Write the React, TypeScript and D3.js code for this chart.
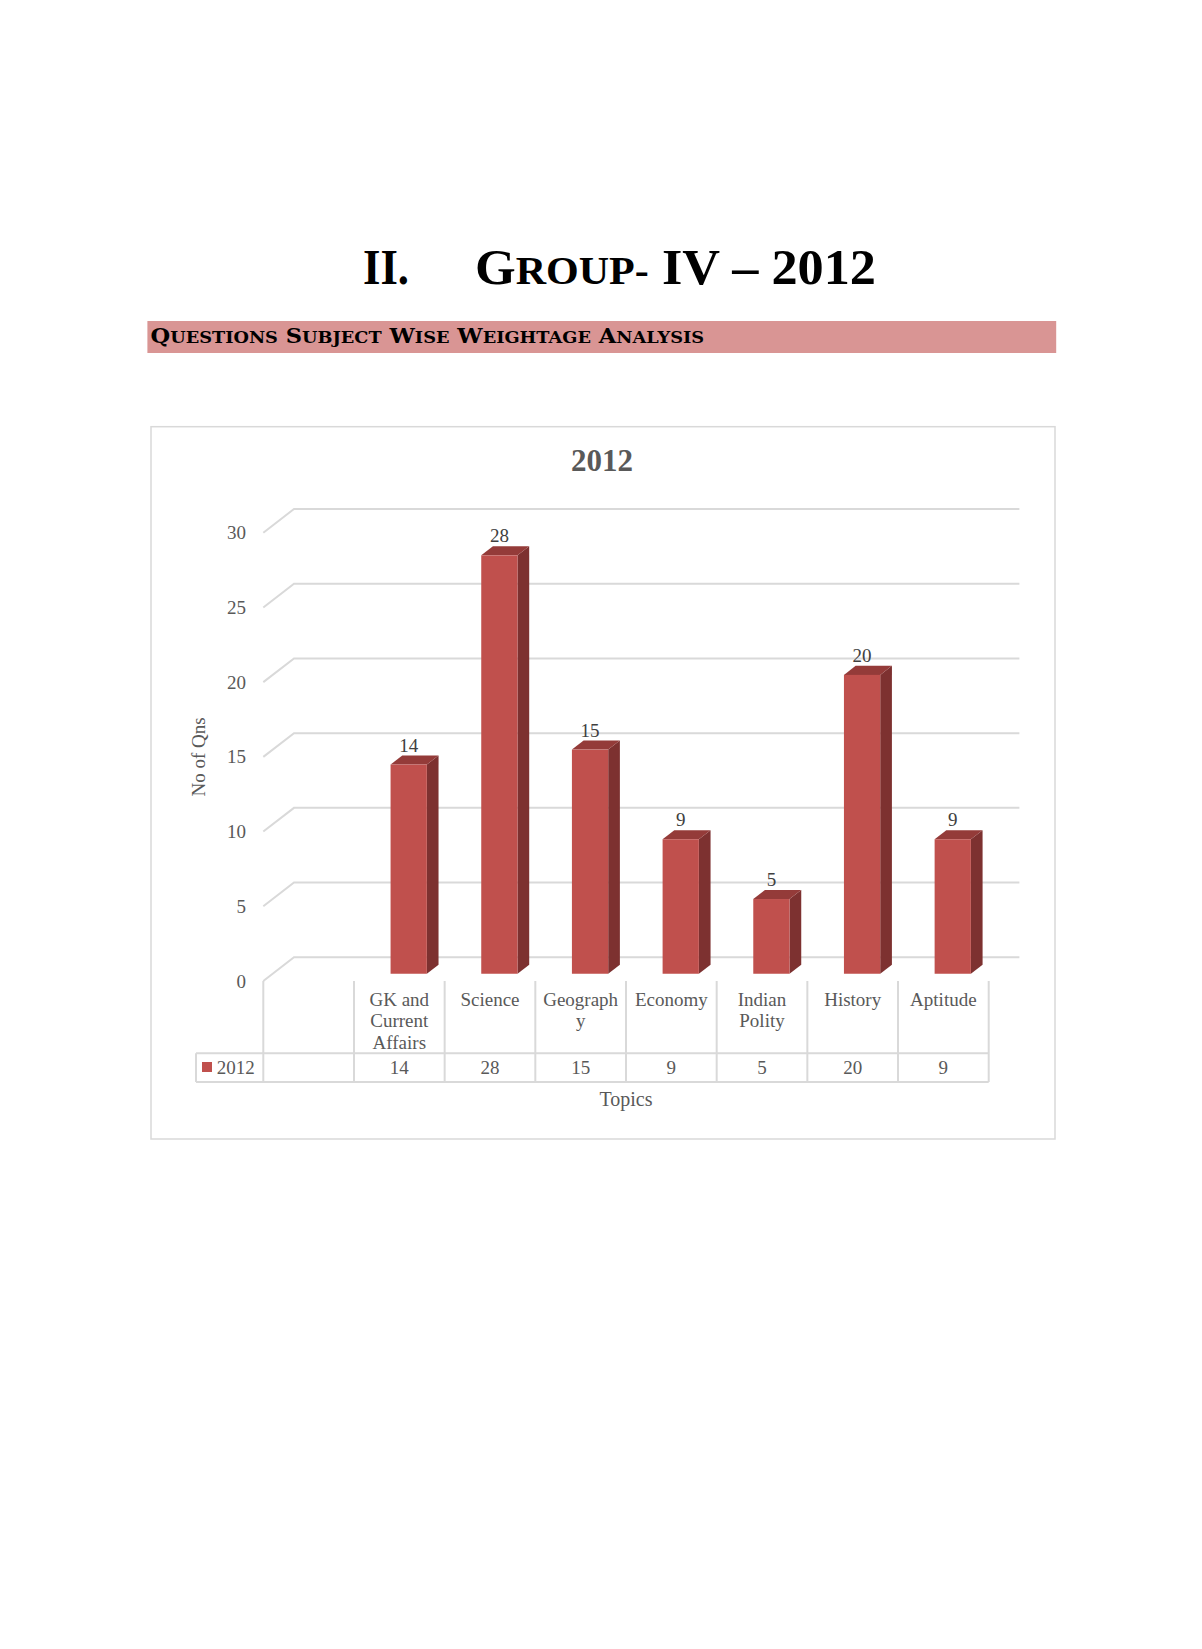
import { useMemo } from "react";
import * as d3 from "d3";

// categories as in the Excel data table (first column is blank)
const topics = ["", "GK and Current Affairs", "Science", "Geography", "Economy", "Indian Polity", "History", "Aptitude"];
const topicLines = [[], ["GK and", "Current", "Affairs"], ["Science"], ["Geograph", "y"], ["Economy"], ["Indian", "Polity"], ["History"], ["Aptitude"]];
const qns2012: (number | null)[] = [null, 14, 28, 15, 9, 5, 20, 9];
const yTicks = [0, 5, 10, 15, 20, 25, 30];
const seriesName = "2012";

const W = 1202;
const H = 1649;
const FONT = "'Liberation Serif', 'Times New Roman', serif";
const TITLE_FONT = "'DejaVu Serif', serif";
const HEAD_FONT = "'Liberation Serif', serif";
const GREY = "#595959";
const GRID = "#d9d9d9";

// 3d floor geometry
const floorFront = 981;
const depthX = 30.7;
const depthY = 23.7;
const barF0 = 0.306;
const barF1 = 0.687;

function SmallCaps({ words, big, small }: { words: string[]; big: number; small: number }) {
  return (
    <>
      {words.map((w, i) => {
        const head = w[0];
        const rest = w.slice(1);
        const isWord = /[A-Za-z]/.test(head) && rest.length > 0 && /[a-z]/.test(rest);
        return (
          <tspan key={i} fontSize={big}>
            {i > 0 ? " " : ""}
            <tspan fontSize={big}>{isWord ? head.toUpperCase() : w}</tspan>
            {isWord && <tspan fontSize={small}>{rest.toUpperCase()}</tspan>}
          </tspan>
        );
      })}
    </>
  );
}

export default function App() {
  const x = useMemo(
    () => d3.scaleBand<string>().domain(topics).range([263.3, 988.7]).paddingInner(0).paddingOuter(0),
    [],
  );
  const h = useMemo(() => d3.scaleLinear().domain([0, 30]).range([0, 448.3]), []);
  const backZero = floorFront - depthY;
  const bw = x.bandwidth();
  const barW = bw * 0.4;
  const leftX = x.range()[0];
  const rightX = x.range()[1];

  const fdx = barF0 * depthX;
  const fdy = barF0 * depthY;
  const bdx = (barF1 - barF0) * depthX;
  const bdy = (barF1 - barF0) * depthY;

  return (
    <svg width={W} height={H} style={{ position: "absolute", left: 0, top: 0, background: "#fff" }}>
      {/* page heading */}
      <text x={363} y={284.3} fontFamily={HEAD_FONT} fontWeight="bold" fontSize={51} textLength={46} lengthAdjust="spacingAndGlyphs" fill="#000">
        II.
      </text>
      <text
        x={475}
        y={284.3}
        fontFamily={HEAD_FONT}
        fontWeight="bold"
        fontSize={51}
        fill="#000"
        textLength={401}
        lengthAdjust="spacingAndGlyphs"
      >
        <SmallCaps words={["Group-", "IV", "–", "2012"]} big={51} small={41} />
      </text>

      <rect x={147.4} y={321} width={908.8} height={32} fill="#d99594" />
      <text
        x={150.6}
        y={343.3}
        fontFamily={TITLE_FONT}
        fontWeight="bold"
        fontSize={21}
        fill="#000"
        textLength={553.5}
        lengthAdjust="spacingAndGlyphs"
      >
        <SmallCaps words={["Questions", "Subject", "Wise", "Weightage", "Analysis"]} big={21} small={16.5} />
      </text>

      {/* chart area */}
      <rect x={151} y={426.7} width={904} height={712.3} fill="#fff" stroke={GRID} strokeWidth={1.5} />
      <text x={602} y={470.7} textAnchor="middle" fontFamily={FONT} fontWeight="bold" fontSize={31} fill={GREY}>
        2012
      </text>

      {/* gridlines: left wall edge + back wall */}
      {yTicks.map((t) => {
        const by = backZero - h(t);
        return (
          <g key={t}>
            <polyline
              points={`${leftX},${by + depthY} ${leftX + depthX},${by} ${rightX + depthX},${by}`}
              fill="none"
              stroke={GRID}
              strokeWidth={2}
            />
            <text x={246} y={by + depthY + 6.5} textAnchor="end" fontFamily={FONT} fontSize={19} fill={GREY}>
              {t}
            </text>
          </g>
        );
      })}
      <text
        transform={`translate(198,757) rotate(-90)`}
        textAnchor="middle"
        dominantBaseline="central"
        fontFamily={FONT}
        fontSize={19}
        fill={GREY}
      >
        No of Qns
      </text>

      {/* bars */}
      {topics.map((c, i) => {
        const v = qns2012[i];
        if (v == null) return null;
        const cx = (x(c) as number) + bw / 2 + fdx;
        const x0 = cx - barW / 2;
        const x1 = cx + barW / 2;
        const yb = floorFront - fdy;
        const yt = yb - h(v);
        return (
          <g key={c}>
            <polygon points={`${x1},${yb} ${x1 + bdx},${yb - bdy} ${x1 + bdx},${yt - bdy} ${x1},${yt}`} fill="#7d3130" />
            <polygon points={`${x0},${yt} ${x1},${yt} ${x1 + bdx},${yt - bdy} ${x0 + bdx},${yt - bdy}`} fill="#943b39" />
            <rect x={x0} y={yt} width={barW} height={yb - yt} fill="#c0504d" />
            <text x={cx} y={yt - 13} textAnchor="middle" fontFamily={FONT} fontSize={19} fill="#404040">
              {v}
            </text>
          </g>
        );
      })}

      {/* data table */}
      <g stroke={GRID} strokeWidth={2} fill="none">
        {d3.range(topics.length + 1).map((i) => {
          const lx = leftX + i * bw;
          return <line key={i} x1={lx} x2={lx} y1={floorFront} y2={1082} />;
        })}
        <line x1={196} x2={rightX} y1={1053.3} y2={1053.3} />
        <line x1={196} x2={rightX} y1={1082} y2={1082} />
        <line x1={196} x2={196} y1={1053.3} y2={1082} />
      </g>
      {topics.map((c, i) => {
        const cx = (x(c) as number) + bw / 2;
        const v = qns2012[i];
        return (
          <g key={"t" + i} fontFamily={FONT} fontSize={19} fill={GREY} textAnchor="middle">
            {topicLines[i].map((ln, j) => (
              <text key={j} x={cx} y={999 + j * 21.5 + 6.5}>
                {ln}
              </text>
            ))}
            {v != null && (
              <text x={cx} y={1067.7 + 6.5}>
                {v}
              </text>
            )}
          </g>
        );
      })}
      <rect x={202} y={1062} width={10} height={10} fill="#c0504d" />
      <text x={216.7} y={1074} fontFamily={FONT} fontSize={19} fill={GREY}>
        {seriesName}
      </text>
      <text x={(leftX + rightX) / 2} y={1105.5} textAnchor="middle" fontFamily={FONT} fontSize={20} fill={GREY}>
        Topics
      </text>
    </svg>
  );
}
